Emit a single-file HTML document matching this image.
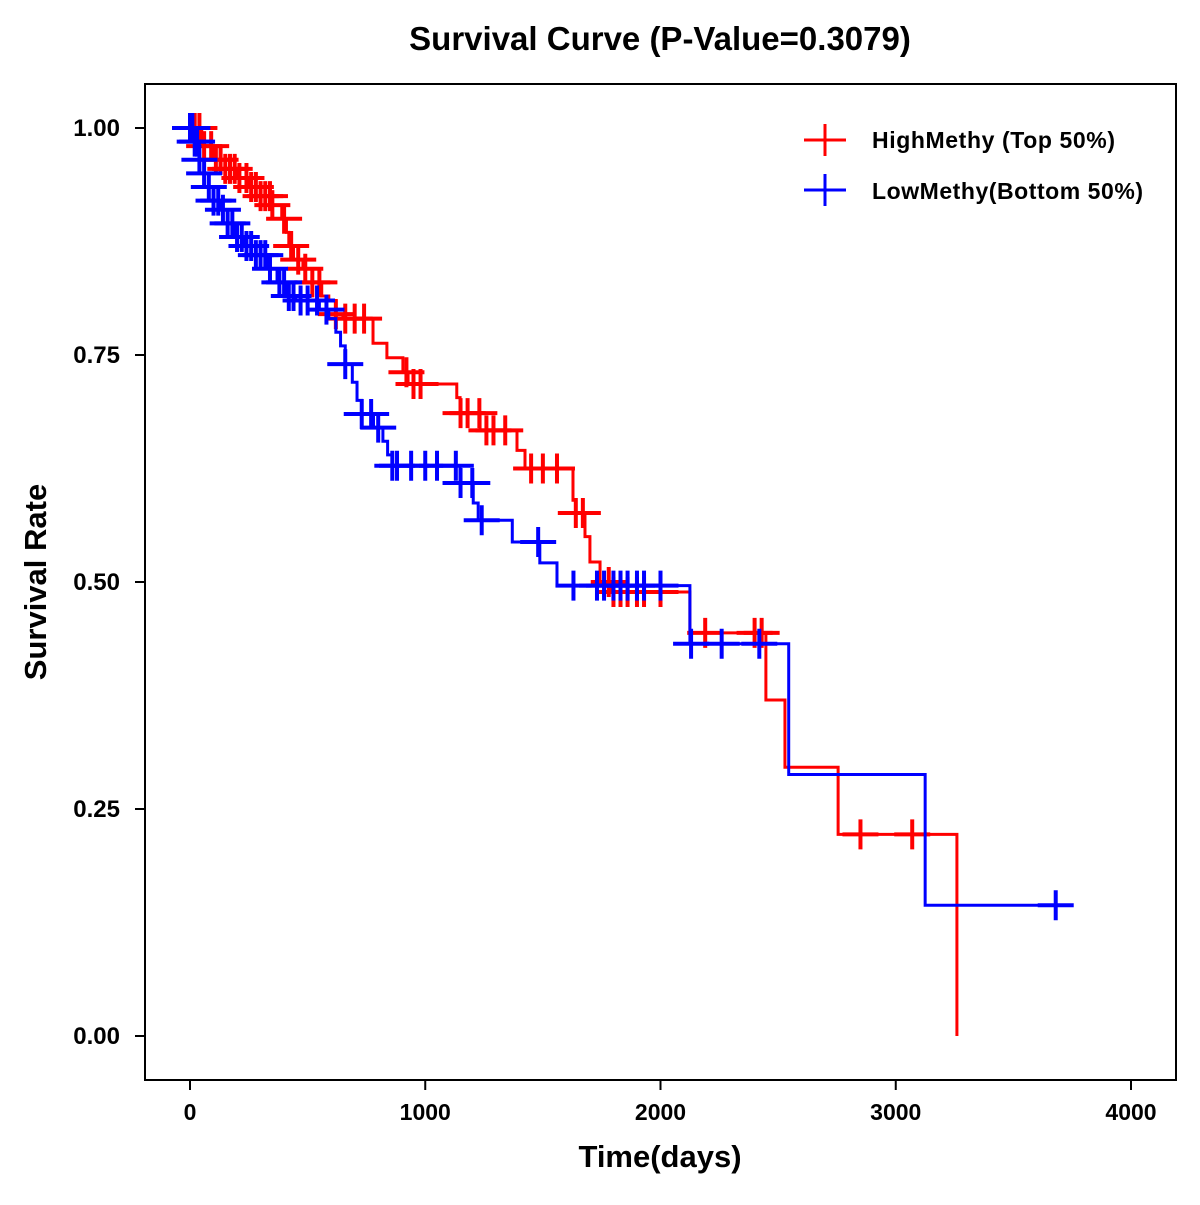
<!DOCTYPE html>
<html><head><meta charset="utf-8"><style>
body{margin:0;background:#fff;font-family:"Liberation Sans",Arial,sans-serif}
</style></head><body>
<svg id="chart" width="1200" height="1200" xmlns="http://www.w3.org/2000/svg">
<rect width="1200" height="1200" fill="#fff"/>
<text x="660" y="50" text-anchor="middle" font-size="33" font-weight="bold">Survival Curve (P-Value=0.3079)</text>
<rect x="145" y="84" width="1031" height="996" fill="none" stroke="#000" stroke-width="2"/>
<g id="axes"></g>
<g id="series"></g>
<text x="660" y="1167" text-anchor="middle" font-size="31" font-weight="bold">Time(days)</text>
<text x="46" y="582" text-anchor="middle" font-size="31" font-weight="bold" transform="rotate(-90 46 582)">Survival Rate</text>
<g>
<g>
<line x1="804" y1="140" x2="846" y2="140" stroke="#f00" stroke-width="3"/><line x1="825" y1="124" x2="825" y2="156" stroke="#f00" stroke-width="3"/>
<text x="872" y="148" font-size="23" font-weight="bold" textLength="243">HighMethy (Top 50%)</text></g>
<g>
<line x1="804" y1="190" x2="846" y2="190" stroke="#00f" stroke-width="3"/><line x1="825" y1="174" x2="825" y2="206" stroke="#00f" stroke-width="3"/>
<text x="872" y="199" font-size="23" font-weight="bold" textLength="271">LowMethy(Bottom 50%)</text></g>
</g>
</svg>
<script>
const xTicks=[0,1000,2000,3000,4000];
const yTicks=[0,0.25,0.5,0.75,1.0];
const yTickLabels=["0.00","0.25","0.50","0.75","1.00"];
const highTimes=[0,50,100,150,200,250,300,350,390,410,420,440,480,520,560,590,620,650,778,837,905,927,1134,1148,1233,1390,1424,1628,1640,1679,1700,1743,1794,2125,2448,2529,2755,3260];
const highSurv=[1.0,0.98,0.965,0.955,0.945,0.935,0.925,0.915,0.9,0.885,0.87,0.855,0.845,0.83,0.815,0.81,0.795,0.79,0.763,0.747,0.731,0.718,0.703,0.686,0.667,0.645,0.625,0.59,0.576,0.55,0.522,0.5,0.489,0.444,0.37,0.296,0.222,0.0];
const highEnd=3260;
const highCensor=[20,40,60,90,110,130,150,170,190,210,240,260,280,300,320,340,350,400,430,460,490,520,550,620,660,700,740,920,950,980,1150,1180,1230,1260,1290,1340,1450,1500,1560,1640,1670,1780,1800,1830,1860,1900,1930,2000,2190,2400,2430,2850,3070];
const lowTimes=[0,20,40,60,80,100,130,160,190,230,280,330,370,410,450,550,590,620,640,660,690,710,730,780,820,840,860,1148,1204,1225,1370,1487,1560,2125,2545,3125];
const lowSurv=[1.0,0.985,0.965,0.95,0.935,0.92,0.91,0.895,0.88,0.87,0.86,0.845,0.83,0.815,0.81,0.8,0.79,0.775,0.76,0.74,0.72,0.7,0.685,0.67,0.655,0.64,0.628,0.609,0.587,0.568,0.544,0.521,0.496,0.432,0.288,0.144];
const lowEnd=3700;
const lowCensor=[0,10,20,30,40,60,80,100,120,140,160,180,200,220,240,260,280,300,320,340,380,400,420,440,470,500,540,580,660,730,770,800,860,880,940,1000,1050,1130,1150,1200,1240,1480,1630,1730,1760,1800,1830,1860,1900,1930,2000,2130,2260,2420,3680];

const NS="http://www.w3.org/2000/svg";
const X=t=>190+t*(1131-190)/4000;
const Y=s=>1036-s*908;
function mk(tag,attrs,parent){const e=document.createElementNS(NS,tag);for(const k in attrs)e.setAttribute(k,attrs[k]);parent.appendChild(e);return e;}
const axes=document.getElementById('axes');
xTicks.forEach(t=>{
  const l=mk('line',{x1:X(t),x2:X(t),y1:1080,y2:1090,stroke:'#000','stroke-width':2},axes);
  
  
  const tx=mk('text',{x:X(t),y:1120,'text-anchor':'middle','font-size':23,'font-weight':'bold'},axes);
  tx.textContent=String(t);
  
  
});
yTicks.forEach((v,i)=>{
  const l=mk('line',{x1:135,x2:145,y1:Y(v),y2:Y(v),stroke:'#000','stroke-width':2},axes);
  
  
  const tx=mk('text',{x:120,y:Y(v)+8,'text-anchor':'end','font-size':24,'font-weight':'bold'},axes);
  tx.textContent=yTickLabels[i];
  
  
});
const ser=document.getElementById('series');
function survAt(times,surv,t){let s=surv[0];for(let i=0;i<times.length;i++){if(times[i]<=t)s=surv[i];}return s;}
function draw(times,surv,end,cens,color,name){
  let d='M'+X(times[0])+','+Y(surv[0]);
  for(let i=1;i<times.length;i++){d+=' H'+X(times[i])+' V'+Y(surv[i]);}
  d+=' H'+X(Math.max(end,times[times.length-1]));
  const p=mk('path',{d:d,fill:'none',stroke:color,'stroke-width':3},ser);
  
  
  cens.forEach(t=>{
    const s=survAt(times,surv,t);
    const g=mk('path',{d:'M'+(X(t)-18)+','+Y(s)+' h36 M'+X(t)+','+(Y(s)-15)+' v30',stroke:color,'stroke-width':4,fill:'none'},ser);
    
    
  });
}
draw(highTimes,highSurv,highEnd,highCensor,'#f00','high-methy');
draw(lowTimes,lowSurv,lowEnd,lowCensor,'#00f','low-methy');
</script>
</body></html>
